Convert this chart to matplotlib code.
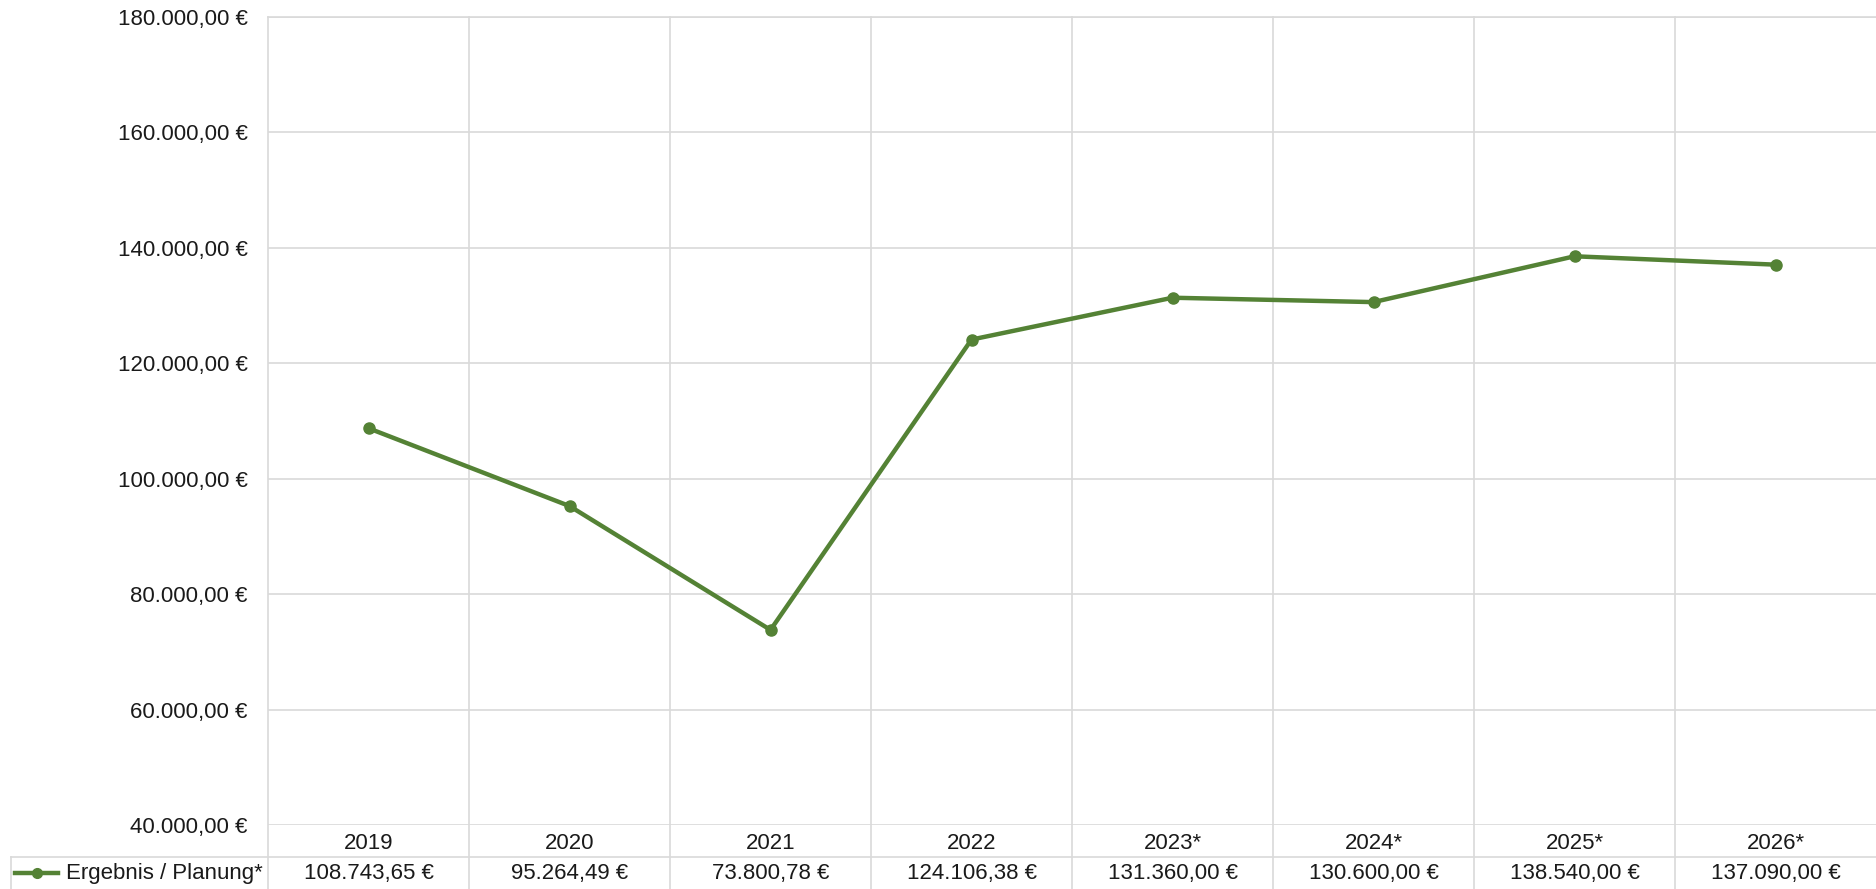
import matplotlib.pyplot as plt
from matplotlib.lines import Line2D
import matplotlib.transforms as mtransforms

plt.rcParams['font.family'] = ['Liberation Sans', 'DejaVu Sans']

# data
years = ['2019', '2020', '2021', '2022', '2023*', '2024*', '2025*', '2026*']
values = [108743.65, 95264.49, 73800.78, 124106.38, 131360.00, 130600.00, 138540.00, 137090.00]
series_name = 'Ergebnis / Planung*'
y_ticks = [40000, 60000, 80000, 100000, 120000, 140000, 160000, 180000]

GREEN = '#548235'
GRID = '#d9d9d9'
TXT = '#1a1a1a'
FS = 16
W, H = 1876, 889


def euro(v):
    s = f"{v:,.2f}"
    s = s.replace(',', 'X').replace('.', ',').replace('X', '.')
    return s + ' €'


fig = plt.figure(figsize=(W / 100, H / 100), dpi=100)
left, right, top, bottom = 268, 1876, 17, 825
ax = fig.add_axes([left / W, (H - bottom) / H, (right - left) / W, (bottom - top) / H])

x = list(range(len(years)))
ax.plot(x, values, color=GREEN, linewidth=3.2, marker='o', markersize=8,
        markerfacecolor=GREEN, markeredgecolor=GREEN, clip_on=False, zorder=3)

ax.set_xlim(-0.5, len(years) - 0.5)
ax.set_ylim(y_ticks[0], y_ticks[-1])
ax.set_yticks(y_ticks)
ax.set_yticklabels([euro(v) for v in y_ticks], fontsize=FS, color=TXT)
ax.tick_params(axis='y', length=0, pad=14.5)
ax.set_xticks([])
for s in ax.spines.values():
    s.set_visible(False)
ax.spines['top'].set_visible(True)
ax.spines['top'].set_color(GRID)
ax.spines['top'].set_linewidth(1.2)
ax.grid(axis='y', color=GRID, linewidth=1.2)

# table below the plot, in pixel rows
row_h = 32 / (bottom - top)
trans = mtransforms.blended_transform_factory(ax.transData, ax.transAxes)
bottom_ext = -(H - bottom) / (bottom - top)

# vertical separators through plot and table
for b in [i - 0.5 for i in range(len(years))]:
    ax.add_line(Line2D([b, b], [bottom_ext, 1], transform=trans, color=GRID,
                       linewidth=1.2, clip_on=False, zorder=0))

# horizontal separator between year row and value row
xl = ax.transAxes.inverted().transform(fig.transFigure.transform((11 / W, 0)))[0]
ax.add_line(Line2D([xl, 1], [-row_h, -row_h], transform=ax.transAxes, color=GRID,
                   linewidth=1.2, clip_on=False))
ax.add_line(Line2D([xl, xl], [-row_h, bottom_ext], transform=ax.transAxes, color=GRID,
                   linewidth=1.2, clip_on=False))

for i, (yr, v) in enumerate(zip(years, values)):
    ax.text(i, -row_h / 2 - 0.003, yr, transform=trans, ha='center', va='center',
            fontsize=FS, color=TXT)
    ax.text(i, -row_h * 1.5, euro(v), transform=trans, ha='center', va='center',
            fontsize=FS, color=TXT)

# legend key inside the table
x0 = ax.transAxes.inverted().transform(fig.transFigure.transform((15 / W, 0)))[0]
x1 = ax.transAxes.inverted().transform(fig.transFigure.transform((58 / W, 0)))[0]
ax.add_line(Line2D([x0, x1], [-row_h * 1.5, -row_h * 1.5], transform=ax.transAxes,
                   color=GREEN, linewidth=3.2, clip_on=False))
ax.add_line(Line2D([(x0 + x1) / 2], [-row_h * 1.5], transform=ax.transAxes, color=GREEN,
                   marker='o', markersize=7, clip_on=False))
ax.text(-0.5 - 5 / 201, -row_h * 1.5, series_name, transform=trans, ha='right',
        va='center', fontsize=FS, color=TXT)

fig.savefig('out.png', dpi=100)
plt.close(fig)
